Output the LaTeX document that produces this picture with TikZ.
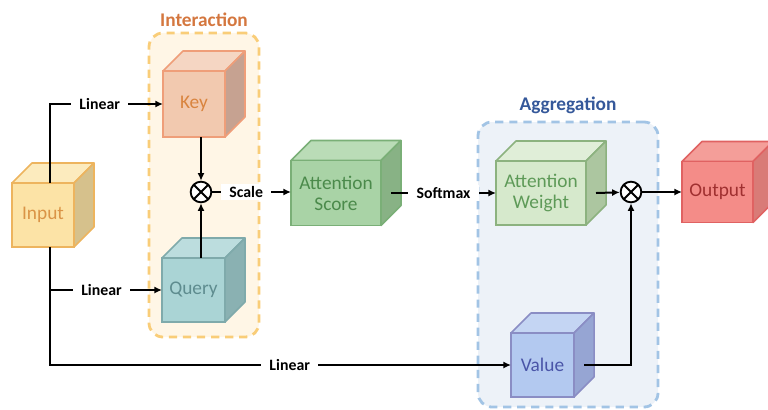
\documentclass[tikz,border=0pt]{standalone}
\usepackage{fontspec}
\setmainfont{Carlito}
\usetikzlibrary{arrows.meta, positioning}

% cube colours: fill, top, side, line, text
\definecolor{fillinput}{HTML}{FCE3A6}
\definecolor{topinput}{HTML}{FCEBBE}
\definecolor{sideinput}{HTML}{D6C18C}
\definecolor{lineinput}{HTML}{EDB45E}
\definecolor{textinput}{HTML}{DA9446}
\definecolor{fillkey}{HTML}{F2C9AF}
\definecolor{topkey}{HTML}{F5D6C3}
\definecolor{sidekey}{HTML}{C6A291}
\definecolor{linekey}{HTML}{EF9E79}
\definecolor{textkey}{HTML}{D9843F}
\definecolor{fillquery}{HTML}{AAD4D5}
\definecolor{topquery}{HTML}{BCDDDE}
\definecolor{sidequery}{HTML}{8AB1B2}
\definecolor{linequery}{HTML}{7FAAAB}
\definecolor{textquery}{HTML}{5E8C8F}
\definecolor{fillscore}{HTML}{A9D3A6}
\definecolor{topscore}{HTML}{BADCB7}
\definecolor{sidescore}{HTML}{88B285}
\definecolor{linescore}{HTML}{7AAF77}
\definecolor{textscore}{HTML}{4B8A4B}
\definecolor{fillweight}{HTML}{D6E9CC}
\definecolor{topweight}{HTML}{E0EED8}
\definecolor{sideweight}{HTML}{ACC6A0}
\definecolor{lineweight}{HTML}{8CB27F}
\definecolor{textweight}{HTML}{5E9A58}
\definecolor{filloutput}{HTML}{F48C88}
\definecolor{topoutput}{HTML}{F49E99}
\definecolor{sideoutput}{HTML}{D97B77}
\definecolor{lineoutput}{HTML}{E06262}
\definecolor{textoutput}{HTML}{A03030}
\definecolor{fillvalue}{HTML}{B3C9F0}
\definecolor{topvalue}{HTML}{C4D5F3}
\definecolor{sidevalue}{HTML}{96A5D3}
\definecolor{linevalue}{HTML}{8A8DC4}
\definecolor{textvalue}{HTML}{4A55A8}
% group colours
\definecolor{fillinteract}{HTML}{FFF6E6}
\definecolor{lineinteract}{HTML}{F9CD78}
\definecolor{textinteract}{HTML}{D4773F}
\definecolor{fillaggr}{HTML}{EDF2F8}
\definecolor{lineaggr}{HTML}{A2C4E5}
\definecolor{textaggr}{HTML}{35589A}

\begin{document}
\begin{tikzpicture}[x=0.03cm, y=-0.03cm,
    cube/.style={rectangle, draw=line#1, fill=fill#1, text=text#1, line width=1.3pt, inner sep=0pt, outer sep=0pt, align=center, font=\fontsize{16.5}{18}\selectfont,
        append after command={\pgfextra{
            \filldraw[fill=top#1, draw=line#1, line width=1.3pt, line join=round] (\tikzlastnode.north west) -- ++(20,-20) -- ([shift={(20,-20)}]\tikzlastnode.north east) -- (\tikzlastnode.north east) -- cycle;
            \filldraw[fill=side#1, draw=line#1, line width=1.3pt, line join=round] (\tikzlastnode.north east) -- ++(20,-20) -- ([shift={(20,-20)}]\tikzlastnode.south east) -- (\tikzlastnode.south east) -- cycle;}}},
    group/.style={rectangle, rounded corners=0.42cm, line width=2.4pt, dash pattern=on 7pt off 5pt},
    title/.style={font=\bfseries\fontsize{16.5}{18}\selectfont},
    mult/.style={circle, draw, fill=white, line width=1.6pt, minimum size=0.62cm, inner sep=0pt,
        path picture={\draw[line width=1.6pt] (path picture bounding box.north west) -- (path picture bounding box.south east) (path picture bounding box.south west) -- (path picture bounding box.north east);}},
    lbl/.style={fill=white, inner xsep=7pt, inner ysep=2pt, font=\bfseries\fontsize{13.5}{15}\selectfont},
    arrow/.style={-{Latex[length=6.5pt, width=6pt]}, line width=1.7pt}
]
\useasboundingbox (0,0) rectangle (768,409);

% ==== Groups ====
\node[group, draw=lineinteract, fill=fillinteract, minimum width=3.3cm, minimum height=9.12cm] (interact) at (204,185) {};
\node[title, text=textinteract, above=0.5pt of interact] (interacttitle) {Interaction};
\node[group, draw=lineaggr, fill=fillaggr, minimum width=5.4cm, minimum height=8.55cm] (aggr) at (568,264.5) {};
\node[title, text=textaggr, above=2.5pt of aggr] (aggrtitle) {Aggregation};

% ==== Cubes ====
\node[cube=input, minimum width=1.86cm, minimum height=1.92cm] (input) at (43,215) {Input};
\node[cube=key, minimum width=1.86cm, minimum height=1.98cm] (key) at (194,104) {Key};
\node[cube=query, minimum width=1.89cm, minimum height=1.92cm] (query) at (193.5,290) {Query};
\node[cube=score, minimum width=2.7cm, minimum height=1.95cm] (score) at (336,193) {Attention\\Score};
\node[cube=weight, minimum width=2.7cm, minimum height=1.92cm] (weight) at (541,193) {Attention\\Weight};
\node[cube=output, minimum width=2.13cm, minimum height=1.83cm] (output) at (717.5,192) {Output};
\node[cube=value, minimum width=1.89cm, minimum height=1.92cm] (value) at (542.5,365) {Value};

% ==== Products ====
\node[mult] (mul1) at (201,192) {};
\node[mult] (mul2) at (631,192) {};

% ==== Arrows ====
\draw[arrow] ([shift={(7,0)}]input.north) |- node[lbl, pos=0.72] {Linear} (key.west);
\draw[arrow] ([shift={(7,0)}]input.south) |- node[lbl, pos=0.73] {Linear} (query.west);
\draw[arrow] ([shift={(7,0)}]input.south) |- node[lbl, pos=0.76] {Linear} (value.west);
\draw[arrow] (mul1 |- key.south) -- (mul1);
\draw[arrow] (mul1 |- query.north) -- (mul1);
\draw[arrow] (mul1) -- node[lbl, pos=0.43] {Scale} (mul1 -| score.west);
\draw[arrow] ([shift={(10,0)}]score.east) -- node[lbl] {Softmax} (weight);
\draw[arrow] ([shift={(10,0)}]weight.east) -- (mul2);
\draw[arrow] (mul2) -- (output);
\draw[arrow] ([shift={(10,0)}]value.east) -| (mul2);

\end{tikzpicture}
\end{document}
